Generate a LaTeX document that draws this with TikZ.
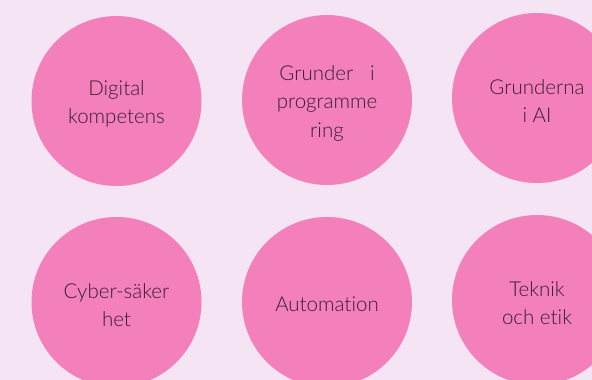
\documentclass[tikz,border=0pt]{standalone}
\usepackage{fontspec}
\setmainfont{Lato Light}[Ligatures={NoCommon}]
\definecolor{bgc}{RGB}{245,228,244}
\definecolor{circ}{RGB}{244,128,187}
\definecolor{txt}{RGB}{55,30,46}
\tikzset{
  bubble/.style={circle, fill=circ, minimum size=170pt, inner sep=0pt},
  lbl/.style={text=txt, align=center, inner sep=0pt, font=\fontsize{20.5}{28.5}\selectfont}
}
\begin{document}
\begin{tikzpicture}[x=1pt,y=-1pt]
\fill[bgc] (0,0) rectangle (592,380);
\useasboundingbox (0,0) rectangle (592,380);
\node[bubble] (a) at (116.5,101) {};
\node[bubble] (b) at (327,100) {};
\node[bubble] (c) at (537,98) {};
\node[bubble] (d) at (116.5,302) {};
\node[bubble] (e) at (327,302) {};
\node[bubble] (f) at (537,300) {};
\node[lbl] (at) at ([yshift=-3pt]a.center) {Digital\\kompetens};
\node[lbl] (bt) at ([yshift=-3pt]b.center) {Grunder\ \ \ i\\programme\\ring};
\node[lbl] (ct) at ([yshift=-3pt]c.center) {Grunderna\\i AI};
\node[lbl] (dt) at ([yshift=-3pt]d.center) {Cyber-säker\\het};
\node[lbl] (et) at ([yshift=-2pt]e.center) {Automation};
\node[lbl] (ft) at ([yshift=-3pt]f.center) {Teknik\\och etik};
\end{tikzpicture}
\end{document}
